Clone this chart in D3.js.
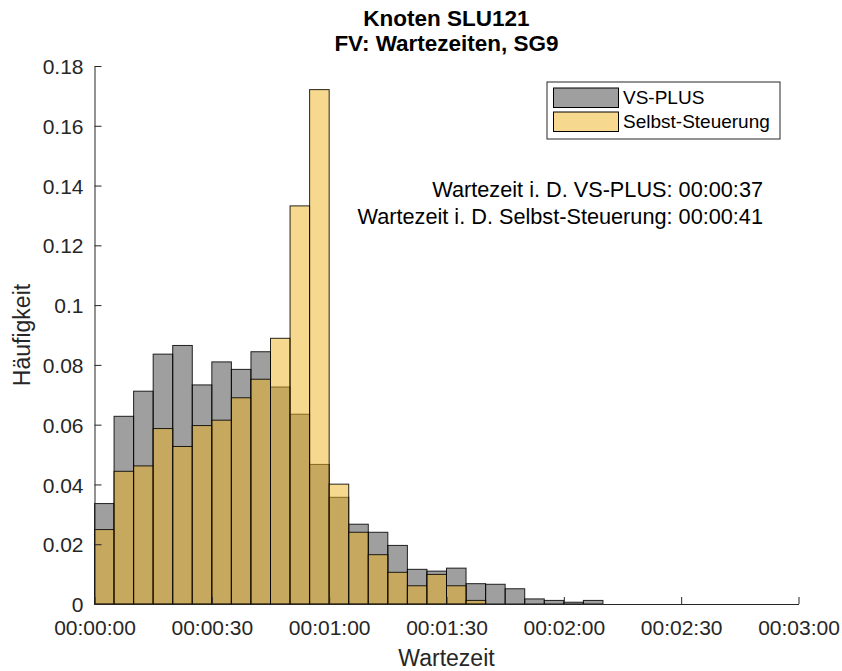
<!DOCTYPE html>
<html>
<head>
<meta charset="utf-8">
<script src="https://cdn.jsdelivr.net/npm/d3@7"></script>
<style>
  html, body { margin: 0; padding: 0; background: #fff; }
  svg { display: block; font-family: "Liberation Sans", Arial, Helvetica, sans-serif; }
</style>
</head>
<body>
<svg id="chart" width="842" height="671"></svg>
<script>
// ---- Data ----
const binWidth = 5; // seconds
const binStarts = [0,5,10,15,20,25,30,35,40,45,50,55,60,65,70,75,80,85,90,95,100,105,110,115,120,125];
const vsPlus = [0.0336,0.0628,0.0712,0.0836,0.0865,0.0733,0.0810,0.0785,0.0844,0.0726,0.0635,0.0467,
                0.0357,0.0267,0.0240,0.0196,0.0116,0.0110,0.0120,0.0068,0.0066,0.0051,0.0017,0.0012,0.0006,0.0012];
const selbst = [0.0249,0.0444,0.0462,0.0587,0.0527,0.0597,0.0615,0.0690,0.0752,0.0889,0.1332,0.1721,
                0.0401,0.0240,0.0165,0.0106,0.0061,0.0099,0.0061,0.0012,0,0,0,0,0,0];
const seriesNames = ["VS-PLUS", "Selbst-Steuerung"];
const seriesColors = ["rgb(64,64,64)", "#EDB120"];
const xTicks = [0,30,60,90,120,150,180];
const yTicks = [0,0.02,0.04,0.06,0.08,0.1,0.12,0.14,0.16,0.18];
const titleLines = ["Knoten SLU121", "FV: Wartezeiten, SG9"];
const xLabel = "Wartezeit";
const yLabel = "Häufigkeit";
const notes = ["Wartezeit i. D. VS-PLUS: 00:00:37", "Wartezeit i. D. Selbst-Steuerung: 00:00:41"];

// ---- Layout ----
const svg = d3.select("#chart");
const mLeft = 94.5, mRight = 798.5, mTop = 66, mBottom = 604;
const x = d3.scaleLinear().domain([0,180]).range([mLeft, mRight]);
const y = d3.scaleLinear().domain([0,0.18]).range([mBottom, mTop]);
const axisColor = "#262626";

function fmtTime(s) {
  const h = Math.floor(s/3600), m = Math.floor((s%3600)/60), sec = s%60;
  const p = v => String(v).padStart(2,"0");
  return p(h)+":"+p(m)+":"+p(sec);
}

// ---- Bars ----
const allSeries = [vsPlus, selbst];
allSeries.forEach((vals, si) => {
  const data = binStarts.map((s,i) => ({s, v: vals[i]})).filter(d => d.v > 0);
  svg.append("g").selectAll("rect").data(data).join("rect")
    .attr("x", d => x(d.s))
    .attr("y", d => y(d.v))
    .attr("width", d => x(d.s + binWidth) - x(d.s))
    .attr("height", d => y(0) - y(d.v))
    .attr("fill", seriesColors[si])
    .attr("fill-opacity", 0.5)
    .attr("stroke", "#000")
    .attr("stroke-opacity", 0.85)
    .attr("stroke-width", 1);
});

// ---- Axes ----
const xAxis = d3.axisBottom(x).tickValues(xTicks).tickFormat(fmtTime).tickSizeInner(-7).tickSizeOuter(0).tickPadding(15);
const gx = svg.append("g").attr("transform", `translate(0,${mBottom})`).call(xAxis);
const yAxis = d3.axisLeft(y).tickValues(yTicks).tickFormat(d => d === 0 ? "0" : String(+d.toFixed(2))).tickSizeInner(-7).tickSizeOuter(0).tickPadding(11);
const gy = svg.append("g").attr("transform", `translate(${mLeft},0)`).call(yAxis);
[gx, gy].forEach(g => {
  g.select(".domain").attr("stroke", axisColor).attr("stroke-width", 1);
  g.selectAll(".tick line").attr("stroke", axisColor).attr("stroke-width", 1);
  g.selectAll(".tick text").attr("fill", axisColor).style("font-size", "21px").style("font-family", "'Liberation Sans', Arial, sans-serif");
});
gx.selectAll(".tick text").attr("dy", null).attr("y", 31);
gy.selectAll(".tick text").attr("dy", "0.36em");

// ---- Labels ----
svg.append("text").attr("x", (mLeft+mRight)/2).attr("y", 666).attr("text-anchor", "middle")
  .attr("fill", axisColor).style("font-size", "23px").text(xLabel);
svg.append("text").attr("transform", `translate(30,${(mTop+mBottom)/2}) rotate(-90)`).attr("text-anchor", "middle")
  .attr("fill", axisColor).style("font-size", "23px").text(yLabel);

svg.selectAll("text.title").data(titleLines).join("text").attr("class","title")
  .attr("x", (mLeft+mRight)/2).attr("y", (d,i) => 25.5 + i*25)
  .attr("text-anchor", "middle").attr("fill", "#000")
  .style("font-size", "22.5px").style("font-weight", "bold").text(d => d);

svg.selectAll("text.note").data(notes).join("text").attr("class","note")
  .attr("x", 763).attr("y", (d,i) => 197 + i*26.5)
  .attr("text-anchor", "end").attr("fill", "#000")
  .style("font-size", "21.7px").text(d => d);

// ---- Legend ----
const lg = svg.append("g");
lg.append("rect").attr("x", 547).attr("y", 82).attr("width", 233).attr("height", 57)
  .attr("fill", "#fff").attr("stroke", axisColor).attr("stroke-width", 1);
seriesNames.forEach((name, i) => {
  const ry = 88 + i*24;
  lg.append("rect").attr("x", 553.5).attr("y", ry).attr("width", 65).attr("height", 19.5)
    .attr("fill", seriesColors[i]).attr("fill-opacity", 0.5)
    .attr("stroke", "#000").attr("stroke-width", 1);
  lg.append("text").attr("x", 623).attr("y", ry + 16).attr("fill", "#000")
    .style("font-size", "19px").text(name);
});
</script>
</body>
</html>
